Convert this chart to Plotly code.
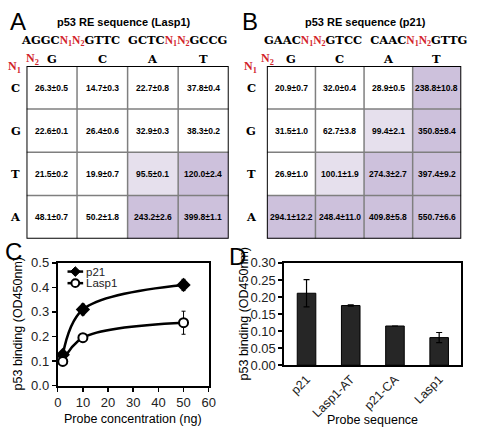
import plotly.graph_objects as go

# ---------------- data ----------------
row_labels = ["C", "G", "T", "A"]      # N1
col_labels = ["G", "C", "A", "T"]      # N2

lasp1_mean = [[26.3, 14.7, 22.7, 37.8],
              [22.6, 26.4, 32.9, 38.3],
              [21.5, 19.9, 95.5, 120.0],
              [48.1, 50.2, 243.2, 399.8]]
lasp1_sd = [[0.5, 0.3, 0.8, 0.4],
            [0.1, 0.6, 0.3, 0.2],
            [0.2, 0.7, 0.1, 2.4],
            [0.7, 1.8, 2.6, 1.1]]

p21_mean = [[20.9, 32.0, 28.9, 238.8],
            [31.5, 62.7, 99.4, 350.8],
            [26.9, 100.1, 274.3, 397.4],
            [294.1, 248.4, 409.8, 550.7]]
p21_sd = [[0.7, 0.4, 0.5, 10.8],
          [1.0, 3.8, 2.1, 8.4],
          [1.0, 1.9, 2.7, 9.2],
          [12.2, 11.0, 5.8, 6.6]]

conc = [2, 10, 50]
p21_bind = [0.125, 0.31, 0.41]
p21_err = [0.008, 0.022, 0.023]
lasp1_bind = [0.098, 0.195, 0.256]
lasp1_err = [0.005, 0.006, 0.047]

probe_seq = ["p21", "Lasp1-AT", "p21-CA", "Lasp1"]
probe_bind = [0.211, 0.175, 0.115, 0.081]
probe_err = [0.040, 0.002, 0.0, 0.015]

# ---------------- helpers ----------------
W, H = 480, 436
def px(x):
    return x / W
def py(y):
    return 1 - y / H

SANS = "Liberation Sans, Arial, sans-serif"
SERIF = "Liberation Serif, serif"
SLAB = "DejaVu Serif, serif"
RED = "#d2232a"
LIGHT = "#e6e0ed"
MED = "#cdc1dc"
colorscale = [[0, "white"], [0.15, "white"], [0.15, LIGHT], [0.19, LIGHT],
              [0.19, MED], [1, MED]]

fig = go.Figure()
annotations = []
shapes = []

def ann(**kw):
    d = dict(showarrow=False, xanchor="center", yanchor="middle")
    d.update(kw)
    annotations.append(d)

def add_table(mean, sd, xa, ya, title, seq_html, center_x, n2x, n1x, rowx):
    fig.add_trace(go.Heatmap(
        z=mean, x=list(range(4)), y=list(range(4)),
        colorscale=colorscale, zmin=0, zmax=600, showscale=False,
        hoverinfo="skip", xaxis=xa, yaxis=ya))
    for i in range(4):
        for j in range(4):
            ann(x=j, y=i, xref=xa, yref=ya,
                text=f"<b>{mean[i][j]:.1f}±{sd[i][j]:.1f}</b>",
                font=dict(family=SANS, size=8.5, color="black"))
    for k in [0.5, 1.5, 2.5]:
        shapes.append(dict(type="line", xref=xa, yref=ya, x0=k, x1=k, y0=-0.5, y1=3.5,
                           line=dict(color="#7f7f7f", width=1.5)))
        shapes.append(dict(type="line", xref=xa, yref=ya, x0=-0.5, x1=3.5, y0=k, y1=k,
                           line=dict(color="#7f7f7f", width=1.5)))
    shapes.append(dict(type="rect", xref=xa, yref=ya, x0=-0.5, x1=3.5, y0=-0.5, y1=3.5,
                       line=dict(color="black", width=2)))
    for j, c in enumerate(col_labels):
        ann(x=j, y=py(54), xref=xa, yref="paper",
            text=f"<b>{c}</b>", font=dict(family=SLAB, size=11.5, color="black"))
    for i, r in enumerate(row_labels):
        ann(x=px(rowx), y=i, xref="paper", yref=ya,
            text=f"<b>{r}</b>", font=dict(family=SLAB, size=11.5, color="black"))
    ann(x=px(n2x), y=py(54), xref="paper", yref="paper",
        text="<b>N<sub>2</sub></b>", font=dict(family=SERIF, size=12, color=RED))
    ann(x=px(n1x), y=py(62), xref="paper", yref="paper",
        text="<b>N<sub>1</sub></b>", font=dict(family=SERIF, size=12, color=RED))
    ann(x=px(center_x), y=py(16), xref="paper", yref="paper",
        text=f"<b>{title}</b>", font=dict(family=SANS, size=11, color="black"))
    ann(x=px(center_x), y=py(35), xref="paper", yref="paper",
        text=seq_html, font=dict(family=SLAB, size=11.5, color="black"))

def n12():
    return (f"<span style='color:{RED};font-family:Liberation Serif'>"
            f"N<sub>1</sub>N<sub>2</sub></span>")

seqA = f"<b>AGGC{n12()}GTTC  GCTC{n12()}GCCG</b>"
seqB = f"<b>GAAC{n12()}GTCC  CAAC{n12()}GTTG</b>"

add_table(lasp1_mean, lasp1_sd, "x", "y", "p53 RE sequence (Lasp1)", seqA,
          123, 29, 11, 12)
add_table(p21_mean, p21_sd, "x2", "y2", "p53 RE sequence (p21)", seqB,
          370, 270, 252, 253)

# ---------------- panel C ----------------
fig.add_trace(go.Scatter(
    x=conc, y=p21_bind, name="p21", mode="lines+markers",
    line=dict(color="black", width=2.5, shape="spline", smoothing=1.0),
    marker=dict(symbol="diamond", size=11, color="black"),
    error_y=dict(type="data", array=p21_err, color="black", thickness=1, width=2),
    showlegend=False, xaxis="x3", yaxis="y3"))
fig.add_trace(go.Scatter(
    x=conc, y=lasp1_bind, name="Lasp1", mode="lines+markers",
    line=dict(color="black", width=2.5, shape="spline", smoothing=1.0),
    marker=dict(symbol="circle", size=9, color="white", line=dict(color="black", width=2)),
    error_y=dict(type="data", array=lasp1_err, color="black", thickness=1, width=2),
    showlegend=False, xaxis="x3", yaxis="y3"))

# compact legend (glyphs drawn as layout shapes)
def legend_item(y, name, symbol):
    shapes.append(dict(type="line", xref="paper", yref="paper",
                       x0=px(65), x1=px(81), y0=py(y), y1=py(y),
                       line=dict(color="black", width=2.5)))
    cx, cy = 73, y
    if symbol == "diamond":
        path = (f"M {px(cx-5)} {py(cy)} L {px(cx)} {py(cy-5)} L {px(cx+5)} {py(cy)} "
                f"L {px(cx)} {py(cy+5)} Z")
        shapes.append(dict(type="path", xref="paper", yref="paper", path=path,
                           fillcolor="black", line=dict(color="black", width=1)))
    else:
        shapes.append(dict(type="circle", xref="paper", yref="paper",
                           x0=px(cx-4), x1=px(cx+4), y0=py(cy+4), y1=py(cy-4),
                           fillcolor="white", line=dict(color="black", width=2)))
    ann(x=px(82), y=py(y), xref="paper", yref="paper", xanchor="left",
        text=name, font=dict(family=SANS, size=11.5, color="#222"))

legend_item(274, "p21", "diamond")
legend_item(286, "Lasp1", "circle")

# ---------------- panel D ----------------
fig.add_trace(go.Bar(
    x=probe_seq, y=probe_bind, width=0.42,
    marker=dict(color="#262626", line=dict(color="black", width=1)),
    error_y=dict(type="data", array=probe_err, color="black", thickness=1.2, width=3),
    showlegend=False, xaxis="x4", yaxis="y4"))

# axis titles & panel letters
ann(x=px(14), y=py(328), xref="paper", yref="paper", textangle=-90,
    text="p53 binding (OD450nm)", font=dict(family=SANS, size=12.5, color="black"))
ann(x=px(132), y=py(427), xref="paper", yref="paper",
    text="Probe concentration (ng)", font=dict(family=SANS, size=12.5, color="black"))
ann(x=px(246), y=py(318), xref="paper", yref="paper", textangle=-90,
    text="p53 binding (OD450nm)", font=dict(family=SANS, size=12.5, color="black"))
ann(x=px(377), y=py(428), xref="paper", yref="paper",
    text="Probe sequence", font=dict(family=SANS, size=12.5, color="black"))
for letter, lx, ly in [("A", 14, 15), ("B", 252, 15), ("C", 10, 253), ("D", 239, 258)]:
    ann(x=px(lx), y=py(ly), xref="paper", yref="paper",
        text=letter, font=dict(family=SANS, size=24, color="black"))

hid = dict(visible=False, showgrid=False, zeroline=False)
tableY = [py(240), py(61)]
plotax = dict(showline=True, linewidth=2, linecolor="black", mirror=True,
              ticks="outside", ticklen=4, tickwidth=1.5, tickcolor="black",
              showgrid=False, zeroline=False,
              tickfont=dict(family=SANS, size=13, color="#222"))

fig.update_layout(
    width=W, height=H, margin=dict(l=0, r=0, t=0, b=0),
    paper_bgcolor="white", plot_bgcolor="white",
    font=dict(family=SANS, color="black"),
    xaxis=dict(domain=[px(23), px(230)], range=[-0.5, 3.5], anchor="y", **hid),
    yaxis=dict(domain=tableY, range=[3.5, -0.5], anchor="x", **hid),
    xaxis2=dict(domain=[px(269), px(468)], range=[-0.5, 3.5], anchor="y2", **hid),
    yaxis2=dict(domain=tableY, range=[3.5, -0.5], anchor="x2", **hid),
    xaxis3=dict(domain=[px(55), px(209.5)], range=[0, 60], dtick=10, anchor="y3", **plotax),
    yaxis3=dict(domain=[py(392), py(265)], range=[0, 0.5], dtick=0.1, tickformat=".1f",
                anchor="x3", **plotax),
    xaxis4=dict(domain=[px(287), px(468)], anchor="y4", tickangle=-45,
                showline=True, linewidth=2, linecolor="black", mirror=True,
                ticks="", showgrid=False, zeroline=False,
                tickfont=dict(family=SANS, size=12.5, color="#222")),
    yaxis4=dict(domain=[py(371), py(265)], range=[0, 0.3], dtick=0.05, tickformat=".2f",
                anchor="x4", **plotax),
    showlegend=False,
    annotations=annotations, shapes=shapes,
)

# remove the default page margin so the figure sits at the window's corner
fig.write_html("out.html",
               config={"displayModeBar": False, "staticPlot": True},
               post_script="document.body.style.margin='0';"
                           "document.body.style.overflow='hidden';")
